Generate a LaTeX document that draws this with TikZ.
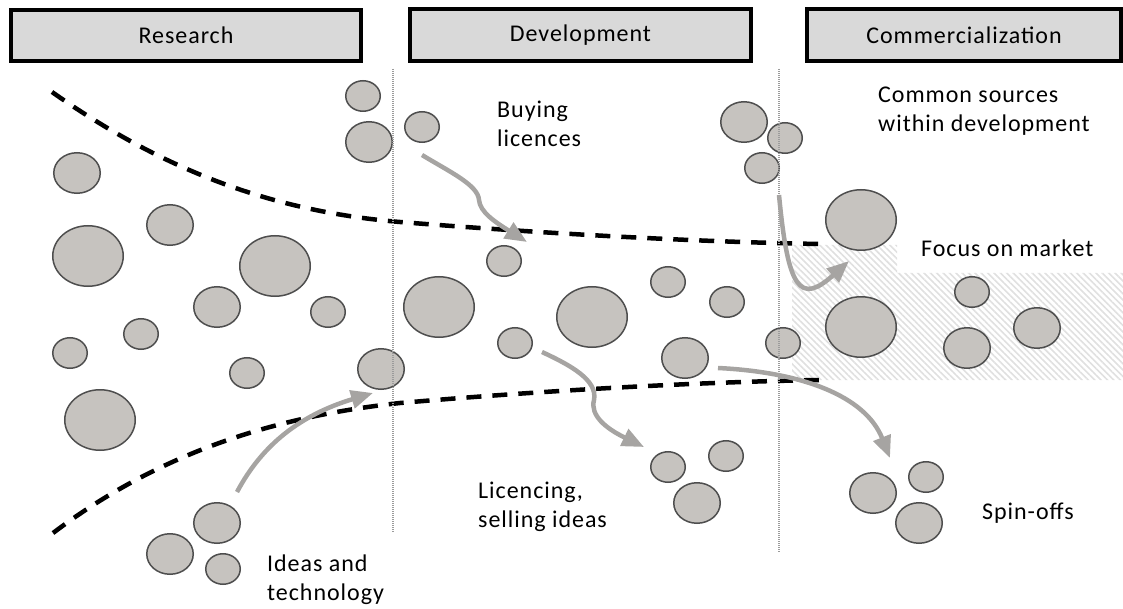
\documentclass[tikz,border=0pt]{standalone}
\usepackage{fontspec}
\setmainfont{Carlito}[LetterSpace=4]
\usetikzlibrary{arrows.meta,shapes.geometric,patterns.meta}

\definecolor{bubble}{RGB}{198,195,191}
\definecolor{bubbleedge}{RGB}{78,78,78}
\definecolor{flow}{RGB}{166,164,162}
\definecolor{hdrfill}{RGB}{217,217,217}
\definecolor{hatch}{RGB}{224,224,224}
\definecolor{divider}{RGB}{155,155,155}

\tikzset{
  hdr/.style={draw=black, line width=4pt, fill=hdrfill, inner sep=0,
    font=\fontsize{24}{29}\selectfont},
  bub/.style={ellipse, draw=bubbleedge, fill=bubble, line width=1.5pt, inner sep=0},
  bS/.style={bub, minimum width=34.5pt, minimum height=30.5pt},
  bM/.style={bub, minimum width=46.5pt, minimum height=40.5pt},
  bL/.style={bub, minimum width=70.5pt, minimum height=60.5pt},
  lbl/.style={anchor=west, align=left, inner sep=0,
    font=\fontsize{24}{29}\selectfont},
  frontier/.style={draw=black, line width=4.5pt, dash pattern=on 15pt off 11pt},
  divline/.style={draw=divider, line width=1.8pt, dash pattern=on 1pt off 1pt},
  flowarrow/.style={draw=flow, line width=4.5pt,
    -{Triangle[length=22pt,width=18pt]}},
}

\begin{document}
\begin{tikzpicture}[x=1pt,y=-1pt]
\useasboundingbox (0,0) rectangle (1123,609);

% striped market zone
\fill[pattern={Lines[angle=-45,distance=4.5pt,line width=1.6pt]}, pattern color=hatch]
  (792,245) -- (897,245) -- (897,273) -- (1123,273) -- (1123,380) -- (792,380) -- cycle;

% phase headers
\node[hdr, minimum width=350pt, minimum height=51pt] (hres) at (186,35.5) {Research};
\node[hdr, minimum width=341pt, minimum height=52pt] (hdev) at (580.5,35) {Development};
\node[hdr, minimum width=314pt, minimum height=52pt] (hcom) at (964,35) {Commercialization};

% funnel boundaries
\draw[frontier] (52,92) .. controls (170,175) and (280,212) .. (400,222)
                        .. controls (550,234) and (700,242) .. (820,244);
\draw[frontier] (53,533) .. controls (150,460) and (260,418) .. (400,403)
                         .. controls (550,390) and (700,382) .. (820,380);

% research bubbles
\node[bM] (r1) at (77,173) {};
\node[bL] (r2) at (88,256) {};
\node[bM] (r3) at (170,225) {};
\node[bL] (r4) at (275,266) {};
\node[bM] (r5) at (217,307) {};
\node[bS] (r6) at (328,312) {};
\node[bS] (r7) at (141,334) {};
\node[bS] (r8) at (70,353) {};
\node[bS] (r9) at (363,96) {};
\node[bM] (r10) at (369,142) {};
\node[bS] (r11) at (247,373) {};
\node[bM] (r12) at (381,369) {};
\node[bL] (r13) at (100,420) {};
\node[bM] (r14) at (217,523) {};
\node[bM] (r15) at (170,554) {};
\node[bS] (r16) at (223,569) {};

% development bubbles
\node[bS] (d1) at (422,127) {};
\node[bM] (d2) at (744,122) {};
\node[bS] (d3) at (785,138) {};
\node[bS] (d4) at (762,168) {};
\node[bS] (d5) at (504,261) {};
\node[bL] (d6) at (439,307) {};
\node[bS] (d7) at (515,343) {};
\node[bL] (d8) at (592,317) {};
\node[bS] (d9) at (668,282) {};
\node[bS] (d10) at (727,302) {};
\node[bM] (d11) at (685,358) {};
\node[bS] (d12) at (783,343) {};
\node[bS] (d13) at (668,467) {};
\node[bS] (d14) at (726,456) {};
\node[bM] (d15) at (697,503) {};

% commercialization bubbles
\node[bL] (m1) at (861,220) {};
\node[bL] (m2) at (861,327) {};
\node[bS] (m3) at (972,292) {};
\node[bM] (m4) at (967,348) {};
\node[bM] (m5) at (1037,328) {};
\node[bM] (m6) at (873,493) {};
\node[bS] (m7) at (926,477) {};
\node[bM] (m8) at (919,523) {};

% phase dividers
\coordinate (div1top) at (393,69);
\coordinate (div1bot) at (393,533);
\coordinate (div2top) at (779,69);
\coordinate (div2bot) at (779,553);
\draw[divline] (div1top) -- (div1bot);
\draw[divline] (div2top) -- (div2bot);

% flows
\coordinate (ideasFrom) at (237,492);
\coordinate (ideasTo) at (373,393);
\draw[flowarrow] (ideasFrom) .. controls (262,445) and (300,415) .. (ideasTo);

\coordinate (buyFrom) at (422,155);
\coordinate (buyTo) at (527,242);
\draw[flowarrow] (buyFrom) .. controls (450,172) and (478,185) .. (479,200)
                 .. controls (480,212) and (495,222) .. (buyTo);

\coordinate (licFrom) at (542,352);
\coordinate (licTo) at (644,447);
\draw[flowarrow] (licFrom) .. controls (570,365) and (598,380) .. (594,400)
                 .. controls (590,415) and (605,428) .. (licTo);

\coordinate (spinFrom) at (718,368);
\coordinate (spinTo) at (890,458);
\draw[flowarrow] (spinFrom) .. controls (800,372) and (865,395) .. (spinTo);

\coordinate (mktFrom) at (779,195);
\coordinate (mktTo) at (849,261);
\draw[flowarrow] (mktFrom) .. controls (788,290) and (800,305) .. (mktTo);

% labels
\node[lbl] (tbuy) at (497,124) {Buying\\licences};
\node[lbl] (tcommon) at (878,111) {Common sources\\within development};
\node[lbl] (tfocus) at (921,248) {Focus on market};
\node[lbl] (tlic) at (478,507) {Licencing,\\selling ideas};
\node[lbl] (tideas) at (267,580) {Ideas and\\technology};
\node[lbl] (tspin) at (982,513) {Spin-offs};
\end{tikzpicture}
\end{document}
